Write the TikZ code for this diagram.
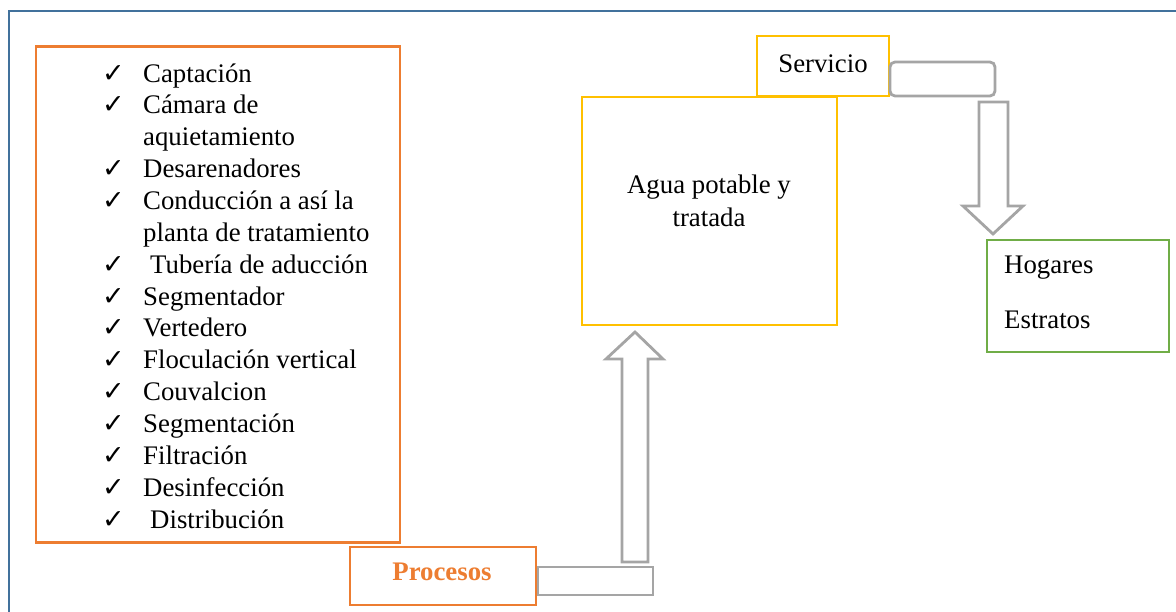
\documentclass[tikz,border=0pt]{standalone}
\usepackage{fontspec}
\setmainfont{Liberation Serif}
\newfontfamily\symfont{DejaVu Sans}
\usepackage{array}
\definecolor{frameblue}{HTML}{41719C}
\definecolor{orng}{HTML}{ED7D31}
\definecolor{yel}{HTML}{FFC000}
\definecolor{grn}{HTML}{70AD47}
\definecolor{gry}{HTML}{A5A5A5}
\newcommand{\ck}{{\symfont\fontsize{27}{20}\selectfont ✓}}
\begin{document}
\begin{tikzpicture}[x=1pt,y=-1pt,
  box/.style={draw,line width=2.8pt,inner sep=0pt},
  txt/.style={inner sep=0pt,font=\fontsize{26.8}{32}\selectfont},
  barshape/.style={draw=gry,line width=2.8pt,fill=white}]
\useasboundingbox (0,0) rectangle (1176,611);
% outer frame
\draw[frameblue,line width=2.2pt] (1180,11) -- (9,11) -- (9,615);
% list box
\node[box,draw=orng,minimum width=364pt,minimum height=496pt] (list) at (218,294.5) {};
\node[txt,anchor=base west] (items) at (102,82) {\fontsize{26.8}{31.86}\selectfont
\begin{tabular}[t]{@{}p{41pt}@{}l@{}}
\ck & Captación\\
\ck & Cámara de\\
    & aquietamiento\\
\ck & Desarenadores\\
\ck & Conducción a así la\\
    & planta de tratamiento\\
\ck & \hspace{7pt}Tubería de aducción\\
\ck & Segmentador\\
\ck & Vertedero\\
\ck & Floculación vertical\\
\ck & Couvalcion\\
\ck & Segmentación\\
\ck & Filtración\\
\ck & Desinfección\\
\ck & \hspace{7pt}Distribución
\end{tabular}};
% procesos
\node[box,draw=orng,fill=white,minimum width=186pt,minimum height=58pt] (proc) at (443,576) {};
\node[txt,anchor=base,text=orng,font=\fontsize{26.8}{32}\selectfont\bfseries] (proct) at (442,580) {Procesos};
% gray bar next to procesos
\node[barshape,minimum width=115pt,minimum height=28pt,inner sep=0pt] (bar1) at (595.5,581) {};
% up arrow
\draw[barshape] (622,562) -- (622,359) -- (606,359) -- (635,332) -- (663,359) -- (648,359) -- (648,562) -- cycle;
% agua
\node[box,draw=yel,minimum width=255pt,minimum height=228pt] (agua) at (709.5,211) {};
\node[txt,anchor=base] (aguat1) at (709,193) {Agua potable y};
\node[txt,anchor=base] (aguat2) at (709,226) {tratada};
% servicio
\node[box,draw=yel,fill=white,minimum width=132pt,minimum height=60pt] (serv) at (823,66) {};
\node[txt,anchor=base] (servt) at (823,72) {Servicio};
% rounded bar
\node[barshape,rounded corners=5pt,minimum width=105pt,minimum height=34pt,inner sep=0pt] (bar2) at (942.5,79) {};
% down arrow
\draw[barshape] (979,102) -- (1008,102) -- (1008,206) -- (1023,206) -- (993,234) -- (963,206) -- (979,206) -- cycle;
% hogares
\node[box,draw=grn,minimum width=182pt,minimum height=112pt] (hog) at (1078,296) {};
\node[txt,anchor=base west] (hogt) at (1004,273) {Hogares};
\node[txt,anchor=base west] (estt) at (1004,328) {Estratos};
\end{tikzpicture}
\end{document}
